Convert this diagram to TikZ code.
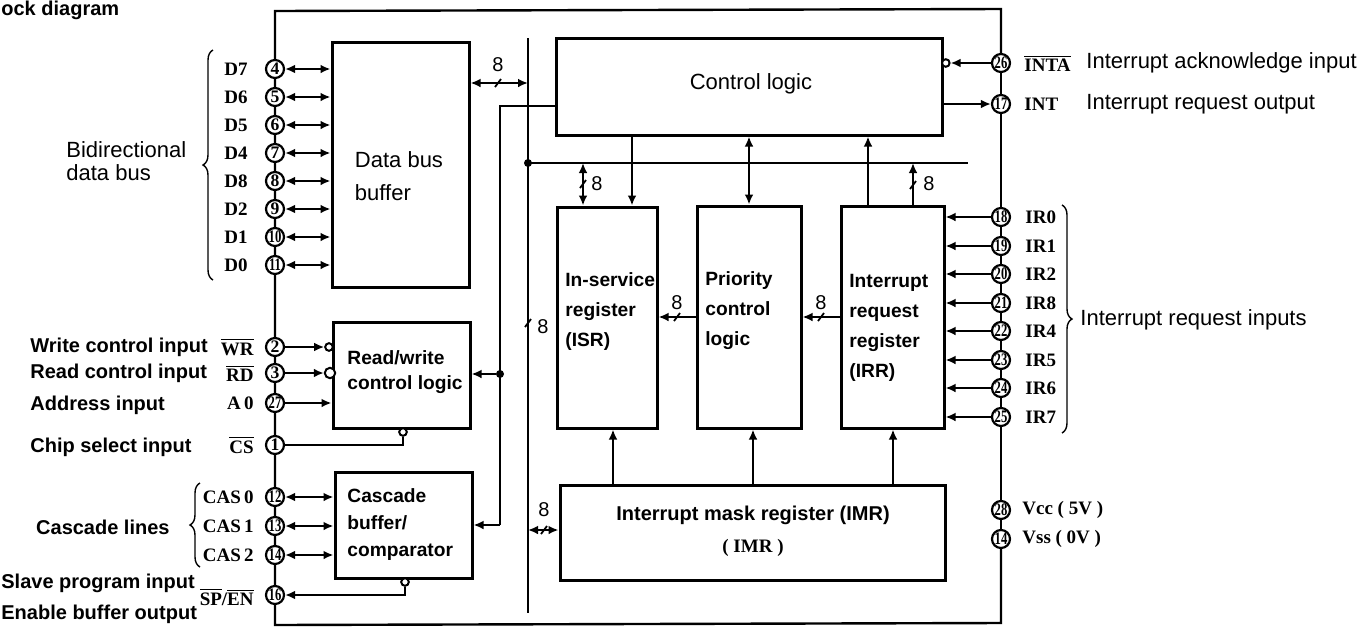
\documentclass[tikz,border=0pt]{standalone}
\usepackage{fontspec}
\setmainfont{Liberation Sans}
\newfontfamily\sigfont{Liberation Serif}
\usepackage{graphicx}
\usetikzlibrary{arrows.meta,fit,decorations.pathreplacing}
\newcommand\pnum[1]{\scalebox{0.72}[1]{#1}}
\newcommand\ovl[1]{\ensuremath{\overline{\mbox{#1}}}}
\begin{document}
\begin{tikzpicture}[x=0.5pt,y=-0.5pt,
  box/.style={draw, line width=1.5pt, inner sep=0pt},
  wire/.style={line width=1.2pt},
  arr/.style={wire, -{Latex[length=5pt,width=4.4pt]}},
  darr/.style={wire, {Latex[length=5pt,width=4.4pt]}-{Latex[length=5pt,width=4.4pt]}},
  pin/.style={circle, draw, line width=1.1pt, fill=white, minimum size=9pt, inner sep=0pt, font=\sigfont\bfseries\fontsize{8.8}{9}\selectfont},
  bub/.style={circle, draw, line width=1pt, fill=white, inner sep=0pt},
  sig/.style={font=\sigfont\bfseries\fontsize{9.5}{10}\selectfont, inner sep=0pt},
  desc/.style={font=\bfseries\fontsize{10}{12}\selectfont, inner sep=0pt},
  rdesc/.style={font=\fontsize{11}{13}\selectfont, inner sep=0pt},
  blk/.style={font=\bfseries\fontsize{9.6}{15}\selectfont, align=left, inner sep=0pt},
  num/.style={font=\fontsize{10}{12}\selectfont, inner sep=0pt},
  brc/.style={decorate, decoration={brace, amplitude=5pt}, line width=0.7pt},
  jdot/.style={circle, fill, inner sep=0pt, minimum size=4pt},
  sl/.pic={\draw[line width=0.9pt] (-3,4) -- (3,-4);}
]
\useasboundingbox (0,0) rectangle (1367,628);

% ---------- boxes ----------
\node[box, fit={(332,42)(469,287)}] (dbb) {};
\node[font=\fontsize{11}{16.5}\selectfont, align=left, inner sep=0pt] (dbbt) at (399,176) {Data bus\\buffer};
\node[box, fit={(556,38)(942,135)}] (cl) {};
\node[font=\fontsize{11}{13}\selectfont, inner sep=0pt] (clt) at (751,84) {Control logic};
\node[box, fit={(333,322)(470,428)}] (rw) {};
\node[blk, anchor=west, font=\bfseries\fontsize{9.6}{12.5}\selectfont] (rwt) at (347,372) {Read/write\\control logic};
\node[box, fit={(335,472)(472,578)}] (cas) {};
\node[blk, anchor=west, font=\bfseries\fontsize{9.6}{13.5}\selectfont] (cast) at (347,525) {Cascade\\buffer/\\comparator};
\node[box, fit={(557,207)(657,428)}] (isr) {};
\node[blk, anchor=west] (isrt) at (565,312) {In-service\\register\\(ISR)};
\node[box, fit={(697,206)(801,428)}] (pr) {};
\node[blk, anchor=west] (prt) at (705,311) {Priority\\control\\logic};
\node[box, fit={(841,206)(944,428)}] (irr) {};
\node[blk, anchor=west] (irrt) at (849,328) {Interrupt\\request\\register\\(IRR)};
\node[box, fit={(560,485)(945,580)}] (imr) {};
\node[font=\bfseries\fontsize{10}{12}\selectfont, inner sep=0pt] (imrt) at (753,515) {Interrupt mask register (IMR)};
\node[sig] (imrt2) at (753,548) {( IMR )};

% ---------- pins ----------
\node[pin] (p4) at (275,69) {4};
\node[pin] (p5) at (275,97) {5};
\node[pin] (p6) at (275,125) {6};
\node[pin] (p7) at (275,153) {7};
\node[pin] (p8) at (275,181) {8};
\node[pin] (p9) at (275,209) {9};
\node[pin] (p10) at (275,237) {\pnum{10}};
\node[pin] (p11) at (275,265) {\pnum{11}};
\node[pin] (p2) at (275,347) {2};
\node[pin] (p3) at (275,373) {3};
\node[pin] (p27) at (275,403) {\pnum{27}};
\node[pin] (p1) at (275,445) {1};
\node[pin] (p12) at (275,497) {\pnum{12}};
\node[pin] (p13) at (275,526) {\pnum{13}};
\node[pin] (pL14) at (275,555) {\pnum{14}};
\node[pin] (p16) at (275,595) {\pnum{16}};

\node[pin] (p26) at (1001,63) {\pnum{26}};
\node[pin] (p17) at (1001,104) {\pnum{17}};
\node[pin] (p18) at (1001,217) {\pnum{18}};
\node[pin] (p19) at (1001,246) {\pnum{19}};
\node[pin] (p20) at (1001,274) {\pnum{20}};
\node[pin] (p21) at (1001,303) {\pnum{21}};
\node[pin] (p22) at (1001,331) {\pnum{22}};
\node[pin] (p23) at (1001,360) {\pnum{23}};
\node[pin] (p24) at (1001,388) {\pnum{24}};
\node[pin] (p25) at (1001,417) {\pnum{25}};
\node[pin] (p28) at (1001,510) {\pnum{28}};
\node[pin] (pR14) at (1001,539) {\pnum{14}};

% ---------- outer pin chains ----------
\coordinate (tl) at (275,11);
\coordinate (tr) at (1001,9);
\coordinate (bl) at (275,625);
\coordinate (br) at (1001,623);
\draw[wire] (p4) -- (tl) -- (tr) -- (p26);
\draw[wire] (p4) -- (p5) -- (p6) -- (p7) -- (p8) -- (p9) -- (p10) -- (p11) -- (p2) -- (p3) -- (p27) -- (p1) -- (p12) -- (p13) -- (pL14) -- (p16) -- (bl) -- (br) -- (pR14);
\draw[wire] (p26) -- (p17) -- (p18) -- (p19) -- (p20) -- (p21) -- (p22) -- (p23) -- (p24) -- (p25) -- (p28) -- (pR14);

% ---------- data bus pins to buffer ----------
\foreach \p in {4,5,6,7,8,9,10,11}
  \draw[darr] (p\p) -- (p\p -| dbb.west);

% ---------- read/write pins ----------
\node[bub, minimum size=3.8pt] (wrb) at (329,347) {};
\node[bub, minimum size=5.2pt] (rdb) at (330,373) {};
\draw[arr] (p2) -- (wrb);
\draw[arr] (p3) -- (rdb);
\draw[arr] (p27) -- (p27 -| rw.west);
\node[bub, minimum size=3.8pt] (csb) at (403,432) {};
\draw[wire] (p1) -| (csb);

% ---------- cascade pins ----------
\draw[darr] (p12) -- (p12 -| cas.west);
\draw[darr] (p13) -- (p13 -| cas.west);
\draw[darr] (pL14) -- (pL14 -| cas.west);
\node[bub, minimum size=3.8pt] (spb) at (405,582) {};
\draw[arr] (spb) |- (p16);

% ---------- internal bus ----------
\coordinate (bt) at (528,38);
\coordinate (bb) at (528,613);
\draw[wire] (bt) -- (bb);
\coordinate (hb0) at (528,163);
\coordinate (hb1) at (968,163);
\draw[wire] (hb0) -- (hb1);
\node[jdot] (j0) at (hb0) {};
\pic at (528,323) {sl};
\node[num] (n1) at (543,327) {8};

% data bus buffer <-> internal bus
\coordinate (db) at (528,83);
\draw[darr] (db -| dbb.east) -- (db);
\pic at (498,83) {sl};
\node[num] (n2) at (498,65) {8};

% control logic to R/W and cascade
\coordinate (c1) at (500,106);
\coordinate (c2) at (500,525);
\node[jdot] (j1) at (500,374) {};
\draw[wire] (c1 -| cl.west) -- (c1) -- (c2);
\draw[arr] (j1) -- (j1 -| rw.east);
\draw[arr] (c2) -- (c2 -| cas.east);

% ISR <-> horizontal bus
\coordinate (ib) at (583,163);
\draw[darr] (ib) -- (ib |- isr.north);
\pic at (583,184) {sl};
\node[num] (n3) at (597,184) {8};

% control logic <-> registers
\coordinate (x1) at (632,0);
\draw[arr] (x1 |- cl.south) -- (x1 |- isr.north);
\coordinate (x2) at (749,0);
\draw[darr] (x2 |- cl.south) -- (x2 |- pr.north);
\coordinate (x3) at (868,0);
\draw[arr] (x3 |- irr.north) -- (x3 |- cl.south);
\coordinate (x4) at (913,163);
\draw[arr] (x4 |- irr.north) -- (x4);
\pic at (913,185) {sl};
\node[num] (n4) at (929,184) {8};

% between registers
\coordinate (y1) at (0,317);
\draw[arr] (y1 -| pr.west) -- (y1 -| isr.east);
\pic at (677,317) {sl};
\node[num] (n5) at (677,303) {8};
\draw[arr] (y1 -| irr.west) -- (y1 -| pr.east);
\pic at (821,317) {sl};
\node[num] (n6) at (821,303) {8};

% IMR to registers
\coordinate (x5) at (613,0);
\coordinate (x6) at (753,0);
\coordinate (x7) at (893,0);
\draw[arr] (x5 |- imr.north) -- (x5 |- isr.south);
\draw[arr] (x6 |- imr.north) -- (x6 |- pr.south);
\draw[arr] (x7 |- imr.north) -- (x7 |- irr.south);

% internal bus <-> IMR
\coordinate (mb) at (528,530);
\draw[darr] (mb) -- (mb -| imr.west);
\pic at (544,530) {sl};
\node[num] (n7) at (544,510) {8};

% ---------- right side pins ----------
\node[bub, minimum size=3.8pt] (intab) at (945.8,63) {};
\draw[arr] (p26) -- (intab);
\draw[arr] (p17 -| cl.east) -- (p17);
\foreach \p in {18,19,20,21,22,23,24,25}
  \draw[arr] (p\p) -- (p\p -| irr.east);

% ---------- labels ----------
\node[font=\bfseries\fontsize{10}{12}\selectfont, inner sep=0pt, anchor=west] (title) at (1,10) {ock diagram};
\node[font=\fontsize{11}{11.5}\selectfont, align=left, inner sep=0pt, anchor=west] (lbd) at (66,161) {Bidirectional\\data bus};
\draw[brc] (213,280) -- (213,50);
\node[sig, anchor=east] (lD7) at (248,69) {D7};
\node[sig, anchor=east] (lD6) at (248,97) {D6};
\node[sig, anchor=east] (lD5) at (248,125) {D5};
\node[sig, anchor=east] (lD4) at (248,153) {D4};
\node[sig, anchor=east] (lD3) at (248,181) {D8};
\node[sig, anchor=east] (lD2) at (248,209) {D2};
\node[sig, anchor=east] (lD1) at (248,237) {D1};
\node[sig, anchor=east] (lD0) at (248,265) {D0};

\node[desc, anchor=west] (lwr) at (30,347) {Write control input};
\node[desc, anchor=west] (lrd) at (30,373) {Read control input};
\node[desc, anchor=west] (la0) at (30,405) {Address input};
\node[desc, anchor=west] (lcs) at (30,447) {Chip select input};
\node[sig, anchor=east] (swr) at (254,347) {\ovl{WR}};
\node[sig, anchor=east] (srd) at (254,373) {\ovl{RD}};
\node[sig, anchor=east] (sa0) at (254,403) {A\,0};
\node[sig, anchor=east] (scs) at (254,445) {\ovl{CS}};

\node[desc, anchor=east] (lcl) at (170,527) {Cascade lines};
\draw[brc] (200,567) -- (200,483);
\node[sig, anchor=east] (sc0) at (254,497) {CAS\,0};
\node[sig, anchor=east] (sc1) at (254,526) {CAS\,1};
\node[sig, anchor=east] (sc2) at (254,555) {CAS\,2};
\node[desc, anchor=west] (lsp) at (1,583) {Slave program input};
\node[sig, anchor=east] (ssp) at (254,597) {\ovl{SP}/\ovl{EN}};
\node[desc, anchor=west] (len) at (1,614) {Enable buffer output};

\node[sig, anchor=west] (sinta) at (1024,63) {\ovl{INTA}};
\node[sig, anchor=west] (sint) at (1024,104) {INT};
\node[rdesc, anchor=west] (linta) at (1086,63) {Interrupt acknowledge input};
\node[rdesc, anchor=west] (lint) at (1086,104) {Interrupt request output};
\node[sig, anchor=west] (sir0) at (1025,217) {IR0};
\node[sig, anchor=west] (sir1) at (1025,246) {IR1};
\node[sig, anchor=west] (sir2) at (1025,274) {IR2};
\node[sig, anchor=west] (sir3) at (1025,303) {IR8};
\node[sig, anchor=west] (sir4) at (1025,331) {IR4};
\node[sig, anchor=west] (sir5) at (1025,360) {IR5};
\node[sig, anchor=west] (sir6) at (1025,388) {IR6};
\node[sig, anchor=west] (sir7) at (1025,417) {IR7};
\draw[brc] (1062,205) -- (1062,433);
\node[rdesc, anchor=west] (lir) at (1080,320) {Interrupt request inputs};
\node[sig, anchor=west] (svcc) at (1022,510) {Vcc ( 5V )};
\node[sig, anchor=west] (svss) at (1022,539) {Vss ( 0V )};
\end{tikzpicture}
\end{document}
